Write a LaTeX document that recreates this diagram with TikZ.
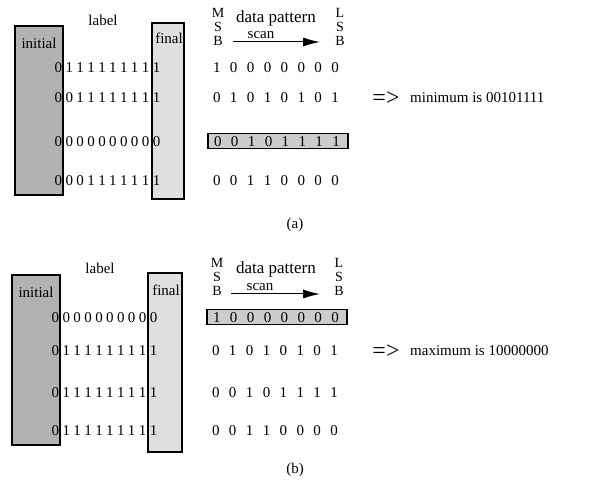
\documentclass[tikz,border=0pt]{standalone}
\usepackage{fontspec}
\setmainfont{Liberation Serif}
\usetikzlibrary{arrows.meta}
\newcommand\labsp{\spaceskip 3.4pt\relax}
\newcommand\datsp{\spaceskip 9.4pt\relax}

\begin{document}
\begin{tikzpicture}[x=1pt,y=-1pt,
  txt/.style={inner sep=0pt,font=\fontsize{15}{18}\selectfont},
  head/.style={inner sep=0pt,font=\fontsize{17}{20}\selectfont},
  labbits/.style={inner sep=0pt,font={\fontsize{15}{18}\selectfont\labsp}},
  bits/.style={inner sep=0pt,font={\fontsize{15}{18}\selectfont\datsp}},
  stack/.style={inner sep=0pt,align=center,font=\fontsize{14}{14}\selectfont},
  initbox/.style={draw,line width=1.3pt,fill=gray!60,inner sep=0pt},
  finalbox/.style={draw,line width=1.3pt,fill=gray!25,inner sep=0pt},
  pickbox/.style={draw,line width=1.3pt,fill=gray!40,inner sep=0pt},
  scanarrow/.style={-{Latex[length=17pt,width=9pt]},line width=1pt}]
\useasboundingbox (0,0) rectangle (590,484);

% (a) minimum
\node[initbox,minimum width=48pt,minimum height=169pt] (initA) at (39,110.5) {};
\node[finalbox,minimum width=32pt,minimum height=176pt] (finalA) at (168,111) {};
\node[pickbox,minimum width=140pt,minimum height=15pt] (pickA) at (278,141) {};
\node[txt] (labelA) at (103,20) {label};
\node[txt] (initTA) at (39,43) {initial};
\node[txt] (finalTA) at (169,38) {final};
\node[labbits] (rowA1) at (107.5,68) {0 1 1 1 1 1 1 1 1 1};
\node[labbits] (rowA2) at (107.5,98) {0 0 1 1 1 1 1 1 1 1};
\node[labbits] (rowA3) at (107.5,142) {0 0 0 0 0 0 0 0 0 0};
\node[labbits] (rowA4) at (107.5,181) {0 0 0 1 1 1 1 1 1 1};
\node[stack] (msbA) at (218,27) {M\\S\\B};
\node[stack] (lsbA) at (340,27) {L\\S\\B};
\node[head] (patA) at (276,18) {data pattern};
\node[txt] (scanA) at (261,35) {scan};
\coordinate (scanAs) at (233,42);
\coordinate (scanAe) at (320,42);
\draw[scanarrow] (scanAs) -- (scanAe);
\node[bits] (datA1) at (276,68) {1 0 0 0 0 0 0 0};
\node[bits] (datA2) at (276,98) {0 1 0 1 0 1 0 1};
\node[bits] (datA3) at (277,142) {0 0 1 0 1 1 1 1};
\node[bits] (datA4) at (276,181) {0 0 1 1 0 0 0 0};
\node[txt,font=\fontsize{24}{24}\selectfont] (impA) at (386,99) {=>};
\node[txt,anchor=west] (minA) at (410,98) {minimum is 00101111};
\node[txt] (capA) at (295,225) {(a)};

% (b) maximum
\node[initbox,minimum width=48pt,minimum height=170pt] (initB) at (36,360) {};
\node[finalbox,minimum width=34pt,minimum height=179pt] (finalB) at (165,362.5) {};
\node[pickbox,minimum width=140pt,minimum height=15pt] (pickB) at (277,317) {};
\node[txt] (labelB) at (100,268) {label};
\node[txt] (initTB) at (36,292) {initial};
\node[txt] (finalTB) at (166,290) {final};
\node[labbits] (rowB1) at (104.5,318) {0 0 0 0 0 0 0 0 0 0};
\node[labbits] (rowB2) at (104.5,351) {0 1 1 1 1 1 1 1 1 1};
\node[labbits] (rowB3) at (104.5,393) {0 1 1 1 1 1 1 1 1 1};
\node[labbits] (rowB4) at (104.5,431) {0 1 1 1 1 1 1 1 1 1};
\node[stack] (msbB) at (217,277) {M\\S\\B};
\node[stack] (lsbB) at (339,277) {L\\S\\B};
\node[head] (patB) at (276,269) {data pattern};
\node[txt] (scanB) at (260,287) {scan};
\coordinate (scanBs) at (231,294);
\coordinate (scanBe) at (320,294);
\draw[scanarrow] (scanBs) -- (scanBe);
\node[bits] (datB1) at (276,318) {1 0 0 0 0 0 0 0};
\node[bits] (datB2) at (275,351) {0 1 0 1 0 1 0 1};
\node[bits] (datB3) at (275,393) {0 0 1 0 1 1 1 1};
\node[bits] (datB4) at (275,431) {0 0 1 1 0 0 0 0};
\node[txt,font=\fontsize{24}{24}\selectfont] (impB) at (386,352) {=>};
\node[txt,anchor=west] (maxB) at (410,351) {maximum is 10000000};
\node[txt] (capB) at (295,470) {(b)};
\end{tikzpicture}
\end{document}
